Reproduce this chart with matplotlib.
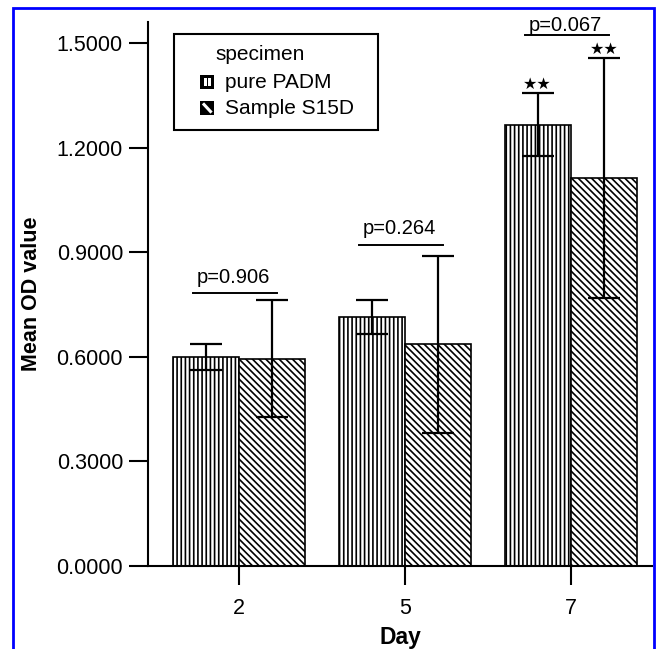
import matplotlib
matplotlib.use('Agg')
import matplotlib.pyplot as plt
import numpy as np
from matplotlib.patches import Rectangle
from matplotlib.lines import Line2D

# data
days = ['2', '5', '7']
padm = [0.600, 0.713, 1.265]
padm_err = [0.037, 0.049, 0.090]
s15d = [0.594, 0.636, 1.112]
s15d_err = [0.168, 0.254, 0.344]
p_labels = ['p=0.906', 'p=0.264', 'p=0.067']
p_line_y = [0.782, 0.921, 1.523]
p_text_y = [0.812, 0.951, 1.533]
stars_padm = ['', '', '★★']
stars_s15d = ['', '', '★★']

plt.rcParams['font.family'] = ['Liberation Sans', 'DejaVu Sans']
plt.rcParams['hatch.linewidth'] = 1.2

W, H = 656, 649
fig = plt.figure(figsize=(W/100, H/100), dpi=100)
ax = fig.add_axes([148/W, 1-566/H, 504/W, 544/H])

x = np.arange(len(days))
w = 0.4
ax.bar(x - w/2, padm, w, facecolor='white', edgecolor='black', linewidth=1.2,
       hatch='||||')
ax.bar(x + w/2, s15d, w, facecolor='white', edgecolor='black', linewidth=1.2,
       hatch='\\' * 5)
ax.errorbar(x - w/2, padm, yerr=padm_err, fmt='none', ecolor='black',
            elinewidth=1.6, capsize=11.5, capthick=1.6, zorder=3)
ax.errorbar(x + w/2, s15d, yerr=s15d_err, fmt='none', ecolor='black',
            elinewidth=1.6, capsize=11.5, capthick=1.6, zorder=3)

# significance stars over the caps
for i in range(len(days)):
    if stars_padm[i]:
        ax.text(x[i] - w/2, padm[i] + padm_err[i] + 0.005, stars_padm[i],
                ha='center', va='bottom', fontsize=11.5, family='DejaVu Sans')
    if stars_s15d[i]:
        ax.text(x[i] + w/2, s15d[i] + s15d_err[i] + 0.005, stars_s15d[i],
                ha='center', va='bottom', fontsize=11.5, family='DejaVu Sans')

# p-value lines
for i in range(len(days)):
    ax.plot([x[i] - 0.275, x[i] + 0.23], [p_line_y[i]] * 2, color='black', lw=1.4)
    ax.text(x[i] - 0.035, p_text_y[i], p_labels[i], ha='center', va='baseline',
            fontsize=14.5)

ax.set_xlim(-0.548, 2.488)
ax.set_ylim(0, 1.56)
ax.set_xticks(x)
ax.set_xticklabels(days)
yt = np.arange(0, 1.51, 0.3)
ax.set_yticks(yt)
ax.set_yticklabels(['%.4f' % v for v in yt])
ax.tick_params(direction='out', length=14, width=1.5, labelsize=15.5, pad=4)
ax.tick_params(axis='x', pad=9)
for s in ['top', 'right']:
    ax.spines[s].set_visible(False)
for s in ['left', 'bottom']:
    ax.spines[s].set_linewidth(1.5)

ax.set_xlabel('Day', fontsize=16.5, fontweight='bold', labelpad=5)
ax.set_ylabel('Mean OD value', fontsize=15.5, fontweight='bold', labelpad=10)

# legend box, drawn by hand in figure pixels (y measured from top)
def fx(px):
    return px / W

def fy(py):
    return 1 - py / H

fig.patches.append(Rectangle((fx(174), fy(130)), fx(378) - fx(174), fy(34) - fy(130),
                             transform=fig.transFigure, fill=False,
                             edgecolor='black', linewidth=1.5))
fig.text(fx(215), fy(55), 'specimen', fontsize=15, va='center', ha='left')

# pure PADM icon: black square with two white slots
fig.patches.append(Rectangle((fx(200), fy(89)), 14/W, 14/H, transform=fig.transFigure,
                             facecolor='black', edgecolor='none'))
for sx in [204, 208.5]:
    fig.patches.append(Rectangle((fx(sx), fy(86)), 2.6/W, 8/H, transform=fig.transFigure,
                                 facecolor='white', edgecolor='none'))
fig.text(fx(225), fy(82), 'pure PADM', fontsize=15, va='center', ha='left')

# Sample S15D icon: black square with a white diagonal
fig.patches.append(Rectangle((fx(200), fy(115)), 14/W, 14/H, transform=fig.transFigure,
                             facecolor='black', edgecolor='none'))
fig.lines.append(Line2D([fx(204), fx(210.5)], [fy(104.5), fy(111.5)],
                        transform=fig.transFigure, color='white', lw=2.2))
fig.text(fx(225), fy(108), 'Sample S15D', fontsize=15, va='center', ha='left')

# blue frame around the picture
fig.patches.append(Rectangle((fx(13), -0.01), fx(654) - fx(13), fy(8) + 0.01,
                             transform=fig.transFigure, fill=False,
                             edgecolor='#0000ff', linewidth=2))

fig.savefig('out.png', dpi=100)
